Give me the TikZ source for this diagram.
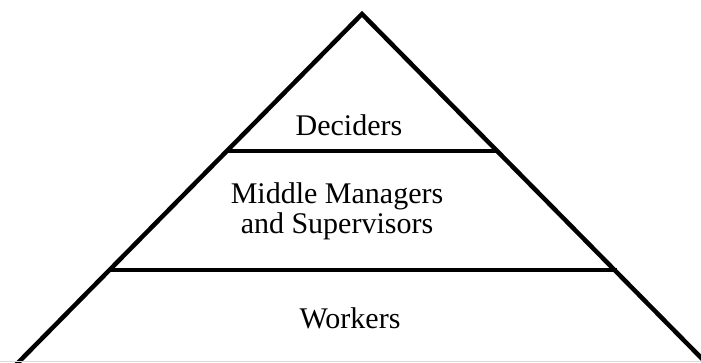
\documentclass[tikz,border=0pt]{standalone}
\usepackage{fontspec}
\setmainfont{Liberation Serif}
\usetikzlibrary{positioning}
\tikzstyle{edge}=[line width=4.5pt,line cap=butt]
\tikzstyle{level}=[inner sep=0pt,anchor=base,align=center,
font=\fontsize{30}{30}\selectfont]

\begin{document}
\begin{tikzpicture}[x=1pt,y=-1pt]
            \useasboundingbox (0,0) rectangle (701,362);
            \clip (0,0) rectangle (701,362);

            % OUTLINE

            \coordinate (apex) at (362,14);
            \coordinate (bl) at (0,381);
            \coordinate (br) at (724,381);
            \draw[edge,line join=miter] (bl) -- (apex) -- (br);
            \draw[gray!30,line width=0.8pt] (0,361.6) -- (701,361.6);

            % LEVELS

            \coordinate (d1) at (226,151);
            \coordinate (d2) at (498,151);
            \coordinate (m1) at (108,270);
            \coordinate (m2) at (617,270);
            \draw[edge] (d1) -- (d2);
            \draw[edge] (m1) -- (m2);

            % LABELS

            \node[level] (deciders) at (349,135) {Deciders};
            \node[level] (managers) at (337,233) {Middle Managers\\and Supervisors};
            \node[level] (workers) at (350,328) {Workers};

        \end{tikzpicture}
\end{document}
